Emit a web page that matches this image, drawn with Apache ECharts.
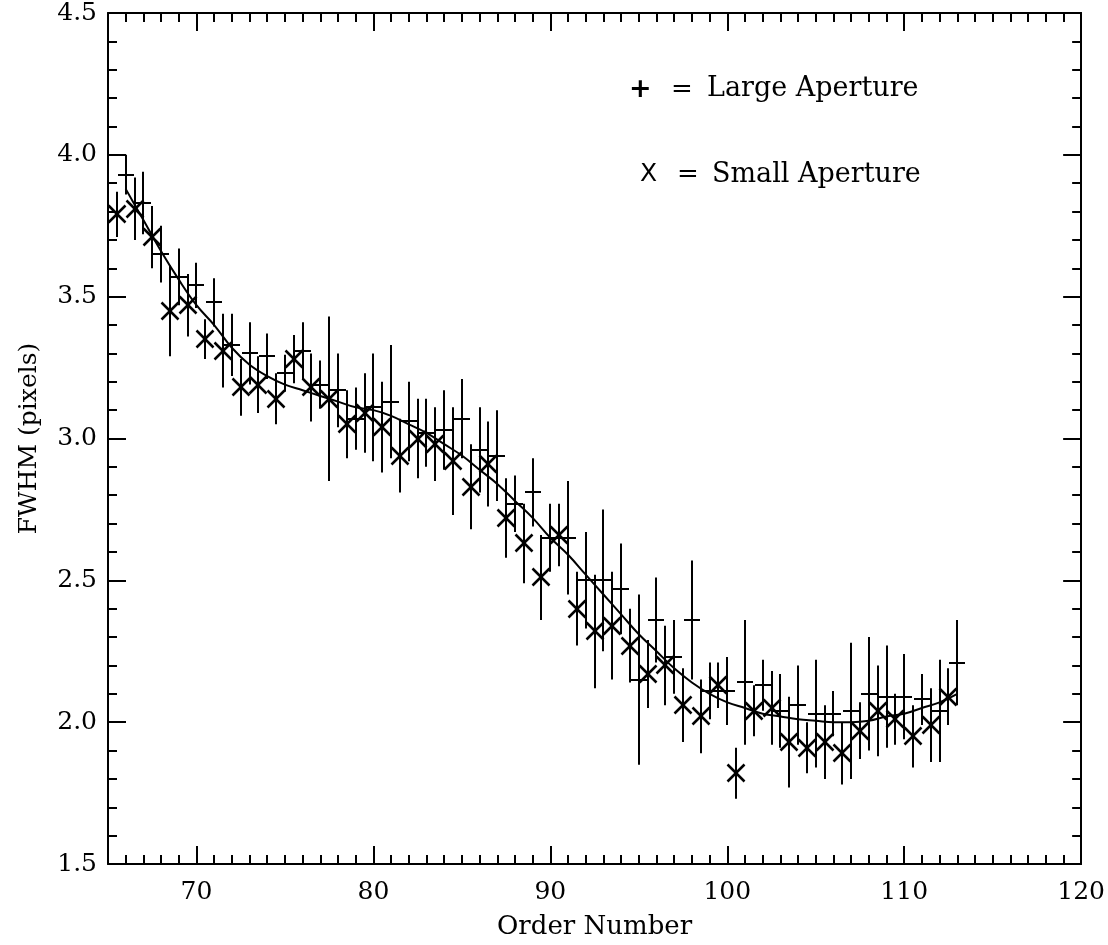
<!DOCTYPE html>
<html lang="en">
<head>
  <meta charset="UTF-8">
  <title>FWHM vs Order</title>
  <script src="https://cdn.jsdelivr.net/npm/echarts@6/dist/echarts.min.js"></script>
  <style>
    html, body { margin: 0; padding: 0; background: #fff; }
    #chart { width: 1108px; height: 945px; }
  </style>
</head>
<body>
<div id="chart"></div>
<script>
  // large aperture (+): order, fwhm, error half-length
  var largeOrder = [66, 67, 68, 69, 70, 71, 72, 73, 74, 75, 76, 77, 78, 79, 80, 81,
    82, 83, 84, 85, 86, 87, 88, 89, 90, 91, 92, 93, 94, 95, 96, 97,
    98, 99, 100, 101, 102, 103, 104, 105, 106, 107, 108, 109, 110, 111, 112, 113];
  var largeFwhm = [3.93, 3.83, 3.65, 3.57, 3.54, 3.48, 3.33, 3.30, 3.29, 3.23, 3.31, 3.19, 3.17, 3.07, 3.11, 3.13,
    3.06, 3.02, 3.03, 3.07, 2.96, 2.94, 2.77, 2.81, 2.65, 2.65, 2.50, 2.50, 2.47, 2.15, 2.36, 2.23,
    2.36, 2.11, 2.11, 2.14, 2.13, 2.04, 2.06, 2.03, 2.03, 2.04, 2.10, 2.09, 2.09, 2.08, 2.04, 2.21];
  var largeErr = [0.07, 0.11, 0.10, 0.10, 0.08, 0.085, 0.11, 0.11, 0.08, 0.065, 0.10, 0.085, 0.13, 0.11, 0.19, 0.20,
    0.14, 0.12, 0.14, 0.14, 0.15, 0.16, 0.10, 0.12, 0.12, 0.20, 0.17, 0.25, 0.16, 0.30, 0.15, 0.13,
    0.21, 0.10, 0.12, 0.22, 0.09, 0.13, 0.14, 0.19, 0.08, 0.24, 0.20, 0.18, 0.15, 0.09, 0.18, 0.15];

  // small aperture (X)
  var smallOrder = [65.5, 66.5, 67.5, 68.5, 69.5, 70.5, 71.5, 72.5, 73.5, 74.5, 75.5, 76.5, 77.5, 78.5, 79.5, 80.5,
    81.5, 82.5, 83.5, 84.5, 85.5, 86.5, 87.5, 88.5, 89.5, 90.5, 91.5, 92.5, 93.5, 94.5, 95.5, 96.5,
    97.5, 98.5, 99.5, 100.5, 101.5, 102.5, 103.5, 104.5, 105.5, 106.5, 107.5, 108.5, 109.5, 110.5, 111.5, 112.5];
  var smallFwhm = [3.79, 3.81, 3.71, 3.45, 3.47, 3.35, 3.31, 3.18, 3.19, 3.14, 3.28, 3.18, 3.14, 3.05, 3.09, 3.04,
    2.94, 3.00, 2.98, 2.92, 2.83, 2.91, 2.72, 2.63, 2.51, 2.66, 2.40, 2.32, 2.34, 2.27, 2.17, 2.20,
    2.06, 2.02, 2.13, 1.82, 2.04, 2.05, 1.93, 1.91, 1.93, 1.89, 1.97, 2.04, 2.01, 1.95, 1.99, 2.09];
  var smallErr = [0.08, 0.11, 0.11, 0.16, 0.11, 0.07, 0.13, 0.10, 0.10, 0.09, 0.085, 0.12, 0.29, 0.12, 0.14, 0.16,
    0.13, 0.14, 0.13, 0.19, 0.15, 0.15, 0.14, 0.14, 0.15, 0.11, 0.13, 0.20, 0.19, 0.13, 0.12, 0.14,
    0.13, 0.13, 0.08, 0.09, 0.09, 0.13, 0.16, 0.09, 0.13, 0.11, 0.10, 0.16, 0.09, 0.11, 0.13, 0.10];

  // fitted curve
  var fitOrder = [66, 67, 68, 69, 70, 71, 72, 73, 74, 75, 76, 77, 78, 79, 80, 81,
    82, 83, 84, 85, 86, 87, 88, 89, 90, 91, 92, 93, 94, 95, 96, 97,
    98, 99, 100, 101, 102, 103, 104, 105, 106, 107, 108, 109, 110, 111, 112, 113];
  var fitFwhm = [3.88, 3.77, 3.66, 3.56, 3.47, 3.40, 3.32, 3.26, 3.22, 3.19, 3.17, 3.15, 3.13, 3.11, 3.10, 3.08,
    3.05, 3.02, 2.98, 2.94, 2.89, 2.84, 2.78, 2.72, 2.65, 2.59, 2.52, 2.45, 2.38, 2.31, 2.25, 2.19,
    2.14, 2.10, 2.07, 2.05, 2.03, 2.02, 2.01, 2.005, 2.00, 2.00, 2.005, 2.02, 2.03, 2.05, 2.07, 2.10];

  var xMajorTicks = [70, 80, 90, 100, 110, 120];
  var xMinorTicks = [];
  for (var t = 66; t < 120; t++) {
    if (t % 10 !== 0) xMinorTicks.push(t);
  }

  var FONT = 'DejaVu Serif';
  var black = '#000';

  function zip3(a, b, c) {
    return a.map(function (v, i) { return [v, b[i], c[i]]; });
  }

  function errorRenderer(kind) {
    return function (params, api) {
      var x = api.value(0), y = api.value(1), e = api.value(2);
      var c = api.coord([x, y]);
      var lo = api.coord([x, y - e]);
      var hi = api.coord([x, y + e]);
      var cx = Math.round(c[0]), cy = Math.round(c[1]);
      var st = { stroke: black, lineWidth: 2 };
      var mk = { stroke: black, lineWidth: 2.5 };
      var kids = [{ type: 'line', shape: { x1: cx, y1: lo[1], x2: cx, y2: hi[1] }, style: st }];
      if (kind === 'plus') {
        var s = 8;
        kids.push({ type: 'line', shape: { x1: cx - s, y1: cy, x2: cx + s, y2: cy }, style: { stroke: black, lineWidth: 2 } });
        kids.push({ type: 'line', shape: { x1: cx, y1: cy - s, x2: cx, y2: cy + s }, style: { stroke: black, lineWidth: 2 } });
      } else {
        var d = 8.5;
        kids.push({ type: 'line', shape: { x1: cx - d, y1: cy - d, x2: cx + d, y2: cy + d }, style: mk });
        kids.push({ type: 'line', shape: { x1: cx - d, y1: cy + d, x2: cx + d, y2: cy - d }, style: mk });
      }
      return { type: 'group', children: kids };
    };
  }

  function xAxisDef(pos, ticks, len, main) {
    return {
      type: 'value', min: 65, max: 120, position: pos, gridIndex: 0,
      axisLine: { show: main, onZero: false, lineStyle: { color: black, width: 2 } },
      axisTick: { show: true, inside: true, length: len, customValues: ticks, lineStyle: { color: black, width: 2 } },
      axisLabel: main && pos === 'bottom'
        ? { show: true, customValues: xMajorTicks, color: black, fontFamily: FONT, fontSize: 25, margin: 16 }
        : { show: false },
      splitLine: { show: false },
      name: main && pos === 'bottom' ? 'Order Number' : '',
      nameLocation: 'middle', nameGap: 50,
      nameTextStyle: { color: black, fontFamily: FONT, fontSize: 26 }
    };
  }

  function yAxisDef(pos) {
    return {
      type: 'value', min: 1.5, max: 4.5, interval: 0.5, position: pos,
      axisLine: { show: true, onZero: false, lineStyle: { color: black, width: 2 } },
      axisTick: { show: true, inside: true, length: 18, lineStyle: { color: black, width: 2 } },
      minorTick: { show: true, splitNumber: 5, length: 9, lineStyle: { color: black, width: 2 } },
      axisLabel: pos === 'left'
        ? { show: true, color: black, fontFamily: FONT, fontSize: 25, margin: 11,
            formatter: function (v) { return v.toFixed(1); } }
        : { show: false },
      splitLine: { show: false },
      name: pos === 'left' ? 'FWHM (pixels)' : '',
      nameLocation: 'middle', nameGap: 66, nameRotate: 90,
      nameTextStyle: { color: black, fontFamily: FONT, fontSize: 25 }
    };
  }

  var chart = echarts.init(document.getElementById('chart'), null, { renderer: 'canvas' });

  chart.setOption({
    backgroundColor: '#fff',
    animation: false,
    grid: { left: 108, right: 26, top: 13, bottom: 79 },
    xAxis: [
      xAxisDef('bottom', xMajorTicks, 18, true),
      xAxisDef('bottom', xMinorTicks, 9, false),
      xAxisDef('top', xMajorTicks, 18, true),
      xAxisDef('top', xMinorTicks, 9, false)
    ],
    yAxis: [yAxisDef('left'), yAxisDef('right')],
    graphic: [
      { type: 'text', left: 629, top: 76, style: { text: '+', fill: black, font: 'bold 27px "DejaVu Sans"' } },
      { type: 'text', left: 671, top: 77, style: { text: '=', fill: black, font: '26px "DejaVu Serif"' } },
      { type: 'text', left: 707, top: 75, style: { text: 'Large Aperture', fill: black, font: '27px "DejaVu Serif"' } },
      { type: 'text', left: 640, top: 162, style: { text: 'X', fill: black, font: '25px "DejaVu Sans"' } },
      { type: 'text', left: 677, top: 162, style: { text: '=', fill: black, font: '26px "DejaVu Serif"' } },
      { type: 'text', left: 712, top: 161, style: { text: 'Small Aperture', fill: black, font: '27px "DejaVu Serif"' } }
    ],
    series: [
      {
        name: 'Fit', type: 'line', xAxisIndex: 0, yAxisIndex: 0,
        data: fitOrder.map(function (x, i) { return [x, fitFwhm[i]]; }),
        smooth: 0.4, showSymbol: false, symbol: 'none',
        lineStyle: { color: black, width: 2 }
      },
      {
        name: 'Large Aperture', type: 'custom', xAxisIndex: 0, yAxisIndex: 0,
        data: zip3(largeOrder, largeFwhm, largeErr),
        renderItem: errorRenderer('plus')
      },
      {
        name: 'Small Aperture', type: 'custom', xAxisIndex: 0, yAxisIndex: 0,
        data: zip3(smallOrder, smallFwhm, smallErr),
        renderItem: errorRenderer('cross')
      }
    ]
  });
</script>
</body>
</html>
